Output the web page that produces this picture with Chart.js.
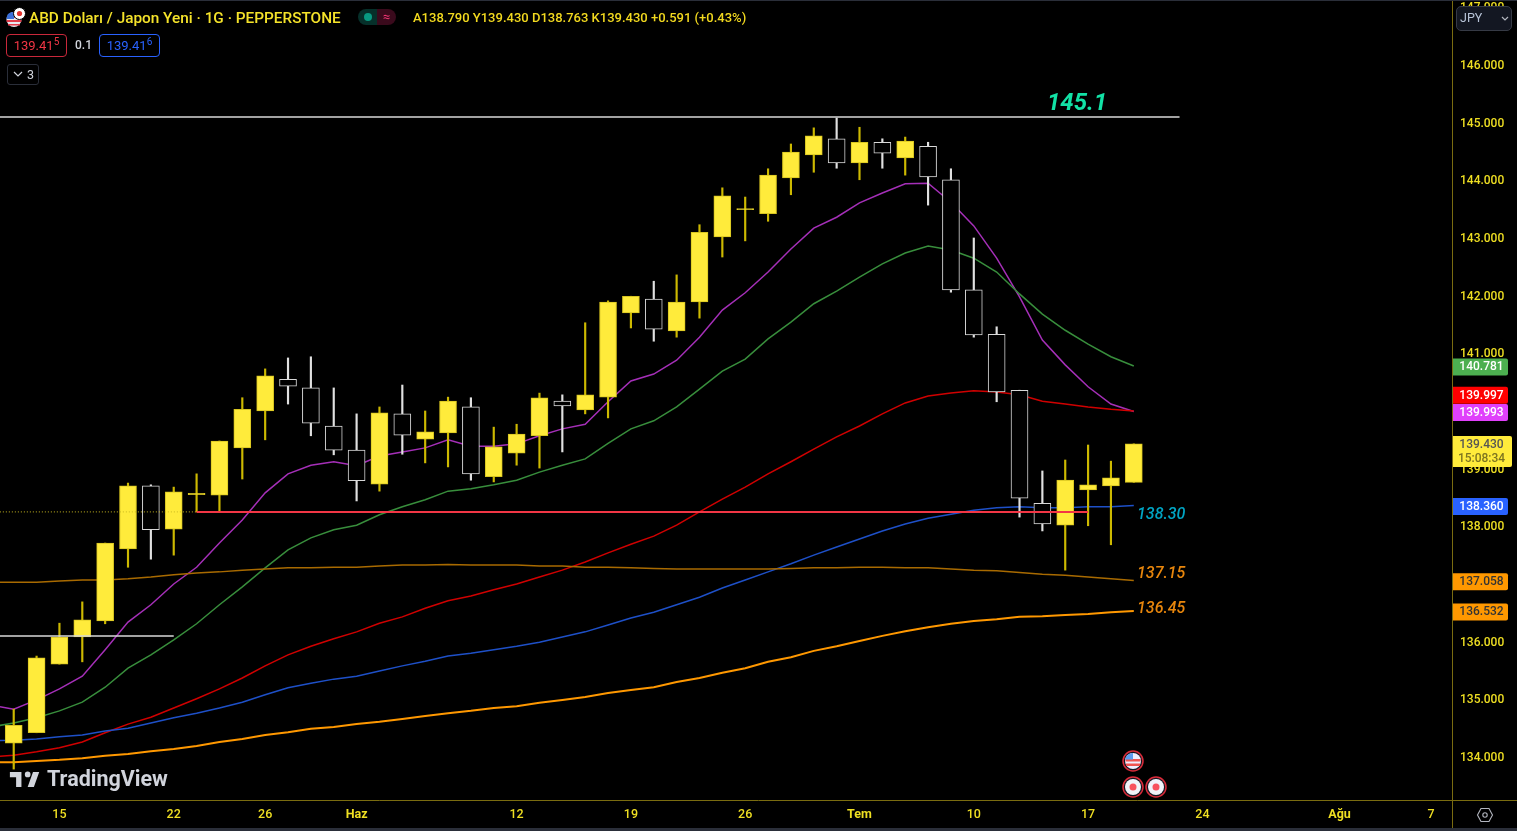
<!DOCTYPE html>
<html lang="tr">
<head>
<meta charset="utf-8">
<title>ABD Doları / Japon Yeni</title>
<script src="https://cdn.jsdelivr.net/npm/chart.js@4/dist/chart.umd.min.js"></script>
<style>
  html, body { margin: 0; padding: 0; width: 1517px; height: 831px; overflow: hidden; background: #000; }
  body { position: relative; font-family: Roboto, "Noto Sans", sans-serif; }
  canvas { position: absolute; left: 0; top: 0; }
  .abs { position: absolute; white-space: nowrap; }
  .strip { position: absolute; left: 0; width: 1517px; background: #2a2e39; }
  .title { left: 29px; top: 8px; font-size: 15.35px; line-height: 20px; font-weight: 500; color: #f5e32a; }
  .ohlc { left: 413px; top: 10px; font-size: 13px; line-height: 16px; font-weight: 500; color: #f2d91f; }
  .pill { top: 9px; height: 16px; width: 19px; }
  .quote { top: 34px; height: 21px; width: 59px; border-radius: 4px; font-size: 13px; line-height: 22px; text-align: center; border: 1px solid; }
  .quote sup { font-size: 10px; line-height: 0; }
  .spread { left: 75px; top: 38px; font-size: 12px; line-height: 15px; font-weight: 500; color: #d1d4dc; }
  .count { left: 7px; top: 64px; width: 30px; height: 19px; border: 1px solid #2a2e39; border-radius: 3px; color: #d1d4dc; font-size: 12.5px; line-height: 19px; }
  .jpy { left: 1456px; top: 6px; width: 54px; height: 23px; background: #131722; border: 1px solid #363a45; border-radius: 5px; color: #b8c4d8; font-size: 12.5px; line-height: 22px; }
  .brand { left: 47px; top: 766px; font-size: 21.5px; line-height: 26px; font-weight: 700; color: #d1d4dc; }
</style>
</head>
<body>
<canvas id="chart" width="1517" height="831"></canvas>
<div class="strip" style="top:0;height:1px"></div>
<div class="strip" style="top:828px;height:3px"></div>

<svg class="abs" style="left:5px;top:7px" width="22" height="21" viewBox="0 0 22 21">
  <circle cx="9" cy="12.5" r="7.5" fill="#e8e8f0"/>
  <path d="M2 9h14v2H2zM1.6 13h14.8v2H1.6zM3 17h12v1.5H3z" fill="#e23b4a"/>
  <path d="M3 7a7.5 7.5 0 0 1 6-2v7H1.6A7.5 7.5 0 0 1 3 7z" fill="#3a6fd8"/>
  <circle cx="14.5" cy="6.5" r="6" fill="#fff" stroke="#000" stroke-width="1"/>
  <circle cx="14.5" cy="6.5" r="2.6" fill="#e2342f"/>
</svg>
<div class="abs title">ABD Doları / Japon Yeni · 1G · PEPPERSTONE</div>
<div class="abs pill" style="left:358px;background:#06302a;border-radius:8px 0 0 8px"></div>
<div class="abs pill" style="left:377px;background:#3a0a1c;border-radius:0 8px 8px 0;color:#f23675;font-size:13px;line-height:15px;text-align:center">≈</div>
<div class="abs" style="left:364px;top:13px;width:8px;height:8px;border-radius:50%;background:#089981"></div>
<div class="abs ohlc">A138.790 Y139.430 D138.763 K139.430 +0.591 (+0.43%)</div>
<div class="abs quote" style="left:6px;color:#f23645;border-color:#c9283b">139.41<sup>5</sup></div>
<div class="abs spread">0.1</div>
<div class="abs quote" style="left:99px;color:#2962ff;border-color:#2962ff">139.41<sup>6</sup></div>
<div class="abs count"><svg style="position:absolute;left:5px;top:6px" width="10" height="7"><path d="M1 1l4 4 4-4" fill="none" stroke="#d1d4dc" stroke-width="1.2"/></svg><span style="position:absolute;left:19px">3</span></div>
<div class="abs jpy"><span style="position:absolute;left:3px">JPY</span><svg style="position:absolute;left:44px;top:9px" width="8" height="6"><path d="M1 1l3 3 3-3" fill="none" stroke="#b2b5be" stroke-width="1.2"/></svg></div>

<svg class="abs" style="left:9px;top:770px" width="32" height="19" viewBox="0 0 36 21">
  <path d="M14 2H1v6h7v11h6V2zm14 17h-7l6-17h7l-6 17zm-7-11a3.2 3.2 0 1 0 0-6.400 3.200 3.200 0 0 0 0 6.400z" fill="#d1d4dc"/>
</svg>
<div class="abs brand">TradingView</div>

<svg class="abs" style="left:1120px;top:749px" width="50" height="50" viewBox="0 0 50 50">
  <circle cx="13" cy="12" r="10" fill="#131722" stroke="#d92b3a" stroke-width="1.5"/>
  <circle cx="13" cy="12" r="8" fill="#eef"/>
  <path d="M5.500 10h15v2.500h-15zM6 14.500h14v2.500H6z" fill="#ef5350"/>
  <path d="M5.200 10.500A8 8 0 0 1 13 4v6.500z" fill="#5b9cf0"/>
  <circle cx="13" cy="38" r="10" fill="#131722" stroke="#d92b3a" stroke-width="1.500"/>
  <circle cx="13" cy="38" r="8" fill="#f0f3fa"/>
  <circle cx="13" cy="38" r="3.500" fill="#f7525f"/>
  <circle cx="36" cy="38" r="10" fill="#131722" stroke="#d92b3a" stroke-width="1.500"/>
  <circle cx="36" cy="38" r="8" fill="#f0f3fa"/>
  <circle cx="36" cy="38" r="3.500" fill="#f7525f"/>
</svg>
<svg class="abs" style="left:1476px;top:806px" width="18" height="18" viewBox="0 0 18 18">
  <path d="M5 2.500h8l3.500 6.500-3.500 6.500H5L1.500 9z" fill="none" stroke="#b2b5be" stroke-width="1.100"/>
  <circle cx="9" cy="9" r="2.200" fill="none" stroke="#b2b5be" stroke-width="1.100"/>
</svg>

<script>
// Candles, one entry per trading day (first bar sits two bars before the "15" tick)
const barOpen = [134.24,134.42,135.61,136.08,136.36,137.61,138.70,137.95,138.55,138.54,139.36,140.00,140.55,140.40,139.74,139.32,138.73,139.95,139.51,139.62,140.07,138.86,139.27,139.57,140.17,140.02,140.24,141.70,141.94,141.39,141.89,143.02,143.49,143.42,144.04,144.44,144.72,144.30,144.66,144.39,144.59,144.01,142.10,141.33,140.36,138.40,138.02,138.63,138.70,138.763];
const barClose = [134.55,135.72,136.08,136.38,137.71,138.70,137.94,138.60,138.57,139.48,140.03,140.61,140.43,139.79,139.32,138.79,139.97,139.58,139.64,140.17,138.91,139.38,139.60,140.23,140.09,140.28,141.89,141.99,141.42,141.89,143.10,143.73,143.51,144.09,144.49,144.77,144.30,144.66,144.47,144.68,144.06,142.10,141.32,140.33,138.49,138.04,138.80,138.72,138.84,139.43];
const barHigh = [134.83,135.75,136.32,136.69,137.71,138.75,138.72,138.68,138.91,139.48,140.23,140.73,140.92,140.94,140.40,139.95,140.07,140.45,140.00,140.24,140.23,139.72,139.77,140.31,140.28,141.53,141.91,141.99,142.25,142.36,143.23,143.87,143.71,144.20,144.63,144.91,145.08,144.92,144.72,144.75,144.66,144.20,143.00,141.46,140.36,138.96,139.15,139.41,139.13,139.43];
const barLow = [133.79,134.42,135.61,135.65,136.31,137.29,137.43,137.50,138.25,138.25,138.82,139.50,140.12,139.57,139.24,138.44,138.61,139.25,139.10,139.03,138.80,138.77,139.06,139.01,139.29,139.95,139.88,141.44,141.21,141.28,141.61,142.67,142.95,143.29,143.75,144.14,144.21,144.01,144.21,144.09,143.57,142.06,141.28,140.16,138.16,137.92,137.24,138.01,137.68,138.763];

// Moving averages; each list starts one bar before the first candle
const maPurple = [134.90,134.83,134.99,135.18,135.40,135.86,136.34,136.64,137.00,137.29,137.71,138.11,138.58,138.91,139.06,139.12,139.05,139.22,139.29,139.36,139.50,139.39,139.39,139.43,139.57,139.69,139.77,140.16,140.52,140.64,140.88,141.28,141.75,142.05,142.41,142.81,143.17,143.36,143.61,143.78,143.94,143.95,143.62,143.21,142.65,141.98,141.23,140.80,140.42,140.12,139.99];
const maGreen = [134.52,134.59,134.68,134.80,134.95,135.21,135.54,135.77,136.03,136.31,136.64,136.95,137.28,137.59,137.80,137.94,138.02,138.20,138.34,138.46,138.61,138.65,138.72,138.80,138.94,139.06,139.17,139.44,139.69,139.83,140.07,140.38,140.69,140.90,141.25,141.54,141.86,142.08,142.32,142.55,142.74,142.86,142.79,142.65,142.41,142.03,141.68,141.40,141.16,140.94,140.78];
const maRed = [134.00,134.03,134.09,134.16,134.26,134.42,134.57,134.69,134.85,135.01,135.18,135.37,135.58,135.77,135.92,136.05,136.17,136.32,136.43,136.58,136.71,136.79,136.90,137.00,137.12,137.24,137.38,137.54,137.69,137.83,138.02,138.25,138.47,138.68,138.91,139.12,139.34,139.55,139.74,139.95,140.14,140.26,140.31,140.35,140.33,140.28,140.17,140.12,140.07,140.03,140.00];
const maBlue = [134.28,134.29,134.31,134.35,134.38,134.45,134.50,134.59,134.68,134.76,134.85,134.95,135.08,135.20,135.28,135.35,135.40,135.49,135.58,135.66,135.75,135.80,135.86,135.92,135.99,136.08,136.17,136.29,136.41,136.51,136.64,136.77,136.93,137.07,137.21,137.35,137.50,137.64,137.78,137.92,138.04,138.14,138.21,138.28,138.32,138.34,138.32,138.32,138.34,138.34,138.36];
const maBrown = [137.03,137.03,137.03,137.05,137.07,137.07,137.09,137.12,137.16,137.19,137.21,137.24,137.26,137.28,137.28,137.29,137.29,137.31,137.33,137.33,137.34,137.33,137.33,137.33,137.31,137.31,137.29,137.29,137.28,137.27,137.26,137.26,137.26,137.26,137.26,137.27,137.28,137.28,137.29,137.29,137.28,137.28,137.26,137.24,137.23,137.20,137.17,137.15,137.12,137.09,137.06];
const maOrange = [133.91,133.91,133.93,133.95,133.98,134.02,134.05,134.10,134.14,134.19,134.26,134.31,134.38,134.43,134.49,134.52,134.57,134.61,134.66,134.71,134.76,134.80,134.85,134.88,134.94,134.99,135.04,135.11,135.16,135.21,135.30,135.37,135.46,135.54,135.65,135.73,135.84,135.92,136.01,136.10,136.18,136.25,136.31,136.36,136.39,136.43,136.44,136.46,136.48,136.51,136.53];

// Hand drawn levels: price, first bar, last bar
const levelTop = [145.10, -1, 51];
const levelLow = [136.10, -1, 7];
const levelRed = [138.25, 8, 47];
const levelDotted = [138.25, -1, 8];

// Axes
const priceTicks = [134,135,136,137,138,139,140,141,142,143,144,145,146,147];
const timeTickBars = [2,7,11,15,22,27,32,37,42,47,52,58,62];
const timeTickLabels = ['15','22','26','Haz','12','19','26','Tem','10','17','24','Ağu','7'];
const monthLabels = ['Haz','Tem','Ağu'];

// Notes written next to the averages
const noteTexts = ['145.1','138.30','137.15','136.45'];
const noteColors = ['#12e2a6','#00a5c4','#e8860c','#e8860c'];

// Badges on the price axis
const badgeTexts = ['140.781','139.997','139.993','138.360','137.058','136.532'];
const badgeColors = ['#4caf50','#ff0000','#e040fb','#2962ff','#ff9800','#ff9800'];
const badgeTextColors = ['#fff','#fff','#fff','#fff','#333','#333'];
const lastPrice = '139.430';
const countdown = '15:08:34';

const UP = '#ffeb3b';
const UP_EDGE = '#d8c520';
const UP_WICK = '#cdb900';
const DOWN_EDGE = '#d8d8d8';
const DOWN_WICK = '#e0e0e0';
const AXIS_COLOR = '#7a6c10';
const TICK_COLOR = '#efdf22';
const FONT = 'Roboto, "Noto Sans", sans-serif';

function isUp(i) {
    return barClose[i] >= barOpen[i];
}

function maLine(values, color, width) {
    return {
        type: 'line',
        data: values.map((v, i) => ({ x: i - 1, y: v })),
        borderColor: color,
        borderWidth: width,
        pointRadius: 0,
        tension: 0,
        order: 5
    };
}

function levelLine(level, color, width, dash) {
    return {
        type: 'line',
        data: [{ x: level[1], y: level[0] }, { x: level[2], y: level[0] }],
        borderColor: color,
        borderWidth: width,
        borderDash: dash || [],
        pointRadius: 0,
        order: 0
    };
}

// Axis lines, badges and notes are painted after the datasets
const overlayPlugin = {
    id: 'overlay',
    afterDraw(chart) {
        const { ctx, chartArea, scales } = chart;
        const right = chartArea.right;
        const bottom = chartArea.bottom;

        ctx.save();
        ctx.strokeStyle = AXIS_COLOR;
        ctx.lineWidth = 1;
        ctx.beginPath();
        ctx.moveTo(right + 0.5, 0);
        ctx.lineTo(right + 0.5, 828);
        ctx.moveTo(0, bottom + 0.5);
        ctx.lineTo(1517, bottom + 0.5);
        ctx.stroke();

        // notes
        const noteFonts = ['italic 700 24px ', 'italic 500 16px ', 'italic 500 16px ', 'italic 500 16px '];
        const noteX = [1047, 1137, 1137, 1137];
        const noteY = [104, 515, 574, 609];
        ctx.textAlign = 'left';
        ctx.textBaseline = 'middle';
        noteTexts.forEach((t, i) => {
            ctx.font = noteFonts[i] + FONT;
            ctx.fillStyle = noteColors[i];
            ctx.fillText(t, noteX[i], noteY[i]);
        });

        // badges, the red one is pushed up by the axis so it does not cover the magenta one
        const shift = [1, -16, 1, 1, 1, 1];
        ctx.font = '500 12px ' + FONT;
        badgeTexts.forEach((t, i) => {
            const y = scales.y.getPixelForValue(parseFloat(t)) + shift[i];
            ctx.fillStyle = badgeColors[i];
            ctx.beginPath();
            ctx.roundRect(right + 1, y - 8.5, 55, 17, [0, 2, 2, 0]);
            ctx.fill();
            ctx.fillStyle = badgeTextColors[i];
            ctx.textAlign = 'center';
            ctx.fillText(t, right + 29.5, y + 0.5);
        });

        ctx.fillStyle = UP;
        ctx.beginPath();
        ctx.roundRect(right + 1, 436, 59, 31, [0, 2, 2, 0]);
        ctx.fill();
        ctx.fillStyle = '#555';
        ctx.fillText(lastPrice, right + 29.5, 445);
        ctx.fillStyle = '#7d7420';
        ctx.fillText(countdown, right + 29.5, 459);
        ctx.restore();
    }
};

new Chart(document.getElementById('chart'), {
    type: 'bar',
    data: {
        datasets: [
            maLine(maOrange, '#ff9800', 2),
            maLine(maBrown, '#a86a00', 1.5),
            maLine(maBlue, '#1e50c8', 1.5),
            maLine(maRed, '#d00000', 1.5),
            maLine(maGreen, '#388e3c', 1.5),
            maLine(maPurple, '#a52fb8', 1.5),
            {
                // wicks
                data: barHigh.map((h, i) => ({ x: i, y: [barLow[i], h] })),
                backgroundColor: barHigh.map((h, i) => isUp(i) ? UP_WICK : DOWN_WICK),
                barThickness: 1.5,
                grouped: false,
                order: 2
            },
            {
                // bodies
                data: barOpen.map((o, i) => ({ x: i, y: [o, barClose[i]] })),
                backgroundColor: barOpen.map((o, i) => isUp(i) ? UP : '#000'),
                borderColor: barOpen.map((o, i) => isUp(i) ? UP_EDGE : DOWN_EDGE),
                borderWidth: 1,
                borderSkipped: false,
                barThickness: 17,
                grouped: false,
                order: 1
            },
            levelLine(levelTop, '#d8d8d8', 1.5),
            levelLine(levelLow, '#d8d8d8', 1.5),
            levelLine(levelDotted, '#c8b820', 1, [1, 2]),
            levelLine(levelRed, '#f23645', 2)
        ]
    },
    options: {
        responsive: false,
        animation: false,
        events: [],
        layout: { padding: 0 },
        plugins: { legend: { display: false }, tooltip: { enabled: false } },
        scales: {
            x: {
                type: 'linear',
                offset: false,
                min: -0.6,
                max: 62.92,
                grid: { display: false, drawTicks: false },
                border: { display: false },
                afterBuildTicks: scale => { scale.ticks = timeTickBars.map(v => ({ value: v })); },
                afterFit: scale => {
                    scale.height = 31;
                    scale.paddingLeft = 0;
                    scale.paddingRight = 0;
                },
                ticks: {
                    autoSkip: false,
                    maxRotation: 0,
                    padding: 7,
                    color: TICK_COLOR,
                    font: ctx => {
                        const label = timeTickLabels[timeTickBars.indexOf(ctx.tick ? ctx.tick.value : -1)];
                        return { family: FONT, size: 12.5, weight: monthLabels.includes(label) ? '700' : '500' };
                    },
                    callback: value => timeTickLabels[timeTickBars.indexOf(value)]
                }
            },
            y: {
                position: 'right',
                min: 133.254,
                max: 147.127,
                grid: { display: false, drawTicks: false },
                border: { display: false },
                afterBuildTicks: scale => { scale.ticks = priceTicks.map(v => ({ value: v })); },
                afterFit: scale => {
                    scale.width = 65;
                    scale.paddingTop = 0;
                    scale.paddingBottom = 0;
                    // price labels sit a bit under their level in the original
                    const tickPixel = Object.getPrototypeOf(scale).getPixelForTick;
                    scale.getPixelForTick = function (i) { return tickPixel.call(this, i) + 1; };
                },
                ticks: {
                    autoSkip: false,
                    padding: 8,
                    color: TICK_COLOR,
                    font: { family: FONT, size: 12, weight: '500' },
                    callback: value => value.toFixed(3)
                }
            }
        }
    },
    plugins: [overlayPlugin]
});
</script>
</body>
</html>
